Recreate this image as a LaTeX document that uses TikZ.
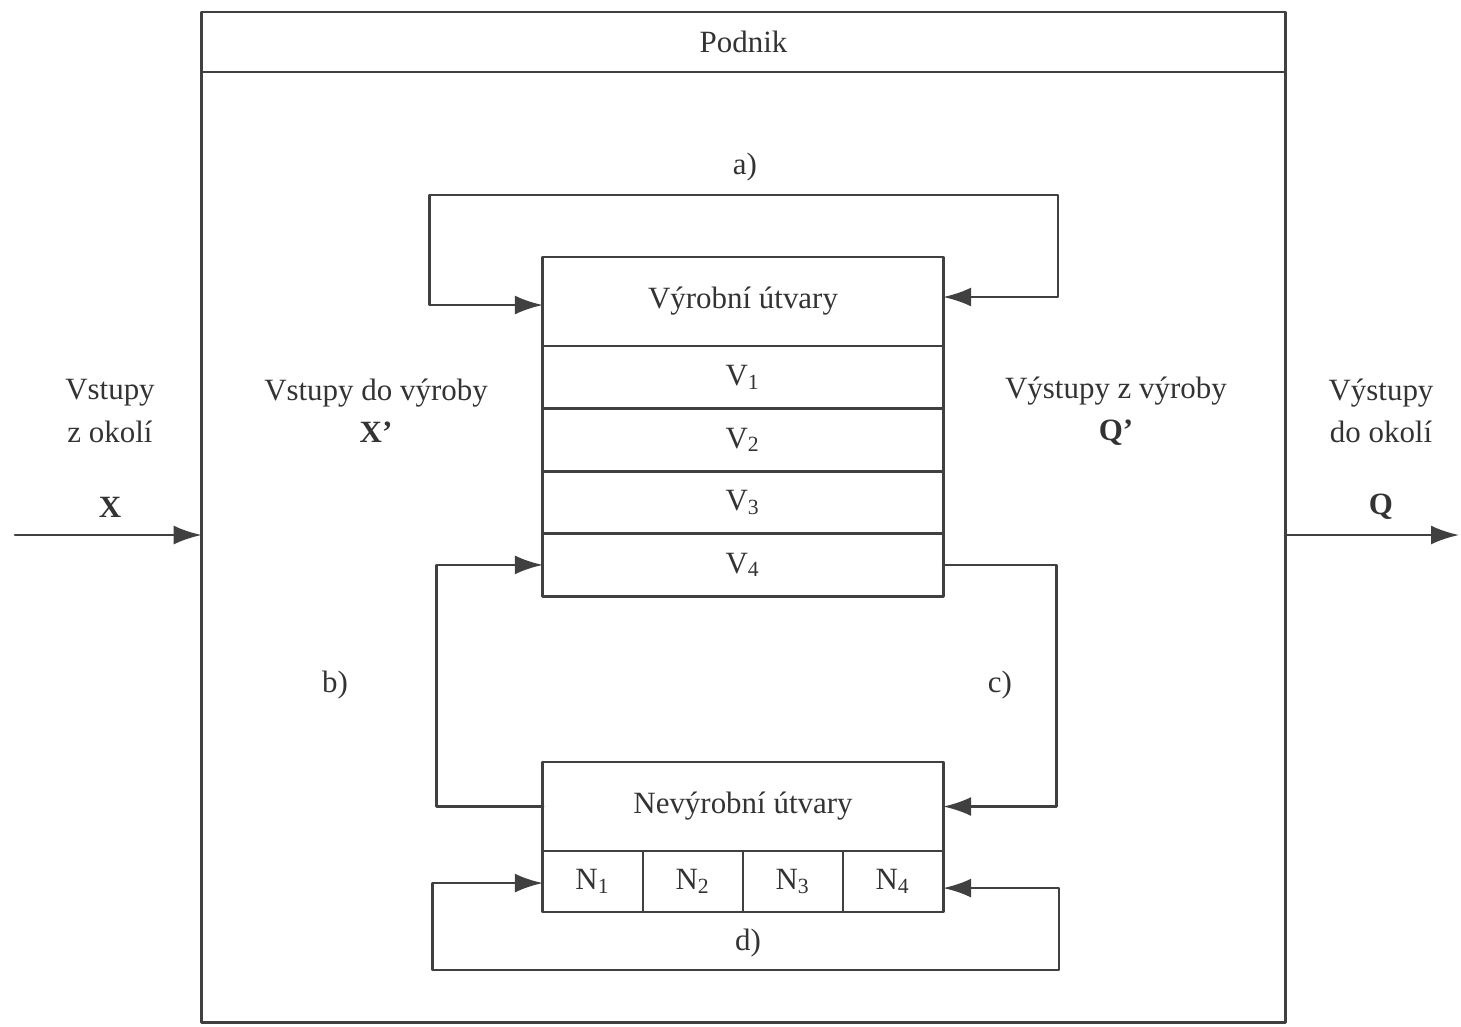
\documentclass[tikz,border=0pt]{standalone}
\usepackage{fontspec}
\setmainfont{Liberation Serif}
\usetikzlibrary{positioning,arrows.meta}
\begin{document}
\begin{tikzpicture}[x=0.01cm, y=-0.01cm, font=\fontsize{8.8}{12}\selectfont, line join=round, line cap=round, >={Latex[length=2.8mm,width=1.9mm]},
	color=black!75, line width=0.8pt,
	box/.style={draw, minimum width=4cm, inner sep=0pt, outer sep=0pt, text=black!80},
	ncell/.style={draw, minimum width=1cm, minimum height=0.61cm, inner sep=0pt, outer sep=0pt, text=black!80},
	lbl/.style={align=center, text=black!80}]
	\useasboundingbox (0,0) rectangle (1461,1026);
	\node[draw, minimum width=10.83cm, minimum height=0.6cm, inner sep=0pt, outer sep=0pt, text=black!80] (head) at (743.5,42) {Podnik};
	\node[draw, minimum width=10.83cm, minimum height=9.5cm, inner sep=0pt, outer sep=0pt, below=0pt of head] (podnik) {};
	\node[box, minimum height=0.89cm] (v0) at (743,301.5) {Výrobní útvary};
	\foreach \i [count=\j from 0] in {1,...,4}
		\node[box, minimum height=0.625cm, below=0pt of v\j] (v\i) {V\textsubscript{\i}};
	\node[box, minimum height=0.89cm] (nev) at (743,806.5) {Nevýrobní útvary};
	\node[ncell, below right=0pt of nev.south west] (n1) {N\textsubscript{1}};
	\foreach \i [count=\j from 1] in {2,3,4}
		\node[ncell, right=0pt of n\j] (n\i) {N\textsubscript{\i}};
	\draw[<->] ([yshift=-0.035cm]v0.west) -- ++(-113,0) |- (1058,195) |- ([yshift=0.045cm]v0.east);
	\draw[->] (nev.west) -- ++(-106,0) |- (v4.west);
	\draw[->] (v4.east) -- ++(113,0) |- (nev.east);
	\draw[<->] ([yshift=-0.015cm]n1.west) -- ++(-110,0) |- (1059,970) |- ([yshift=-0.065cm]n4.east);
	\node[lbl] (a) at (745,167) {a)};
	\node[lbl] (b) at (335,685) {b)};
	\node[lbl] (c) at (1000,685) {c)};
	\node[lbl] (d) at (748,943) {d)};
	\coordinate (vstup) at (15,535);
	\coordinate (vystup) at (1459,535);
	\draw[->] (vstup) -- (vstup -| podnik.west);
	\draw[->] (vystup -| podnik.east) -- (vystup);
	\node[lbl] (vok) at (110,411) {Vstupy\\z okolí};
	\node[lbl] (x) at (110,507) {\textbf{X}};
	\node[lbl] (vyok) at (1381,411) {Výstupy\\do okolí};
	\node[lbl] (q) at (1381,507) {\textbf{Q}};
	\node[lbl] (xp) at (376,411) {Vstupy do výroby\\\textbf{X’}};
	\node[lbl] (qp) at (1116,411) {Výstupy z výroby\\\textbf{Q’}};
\end{tikzpicture}
\end{document}
